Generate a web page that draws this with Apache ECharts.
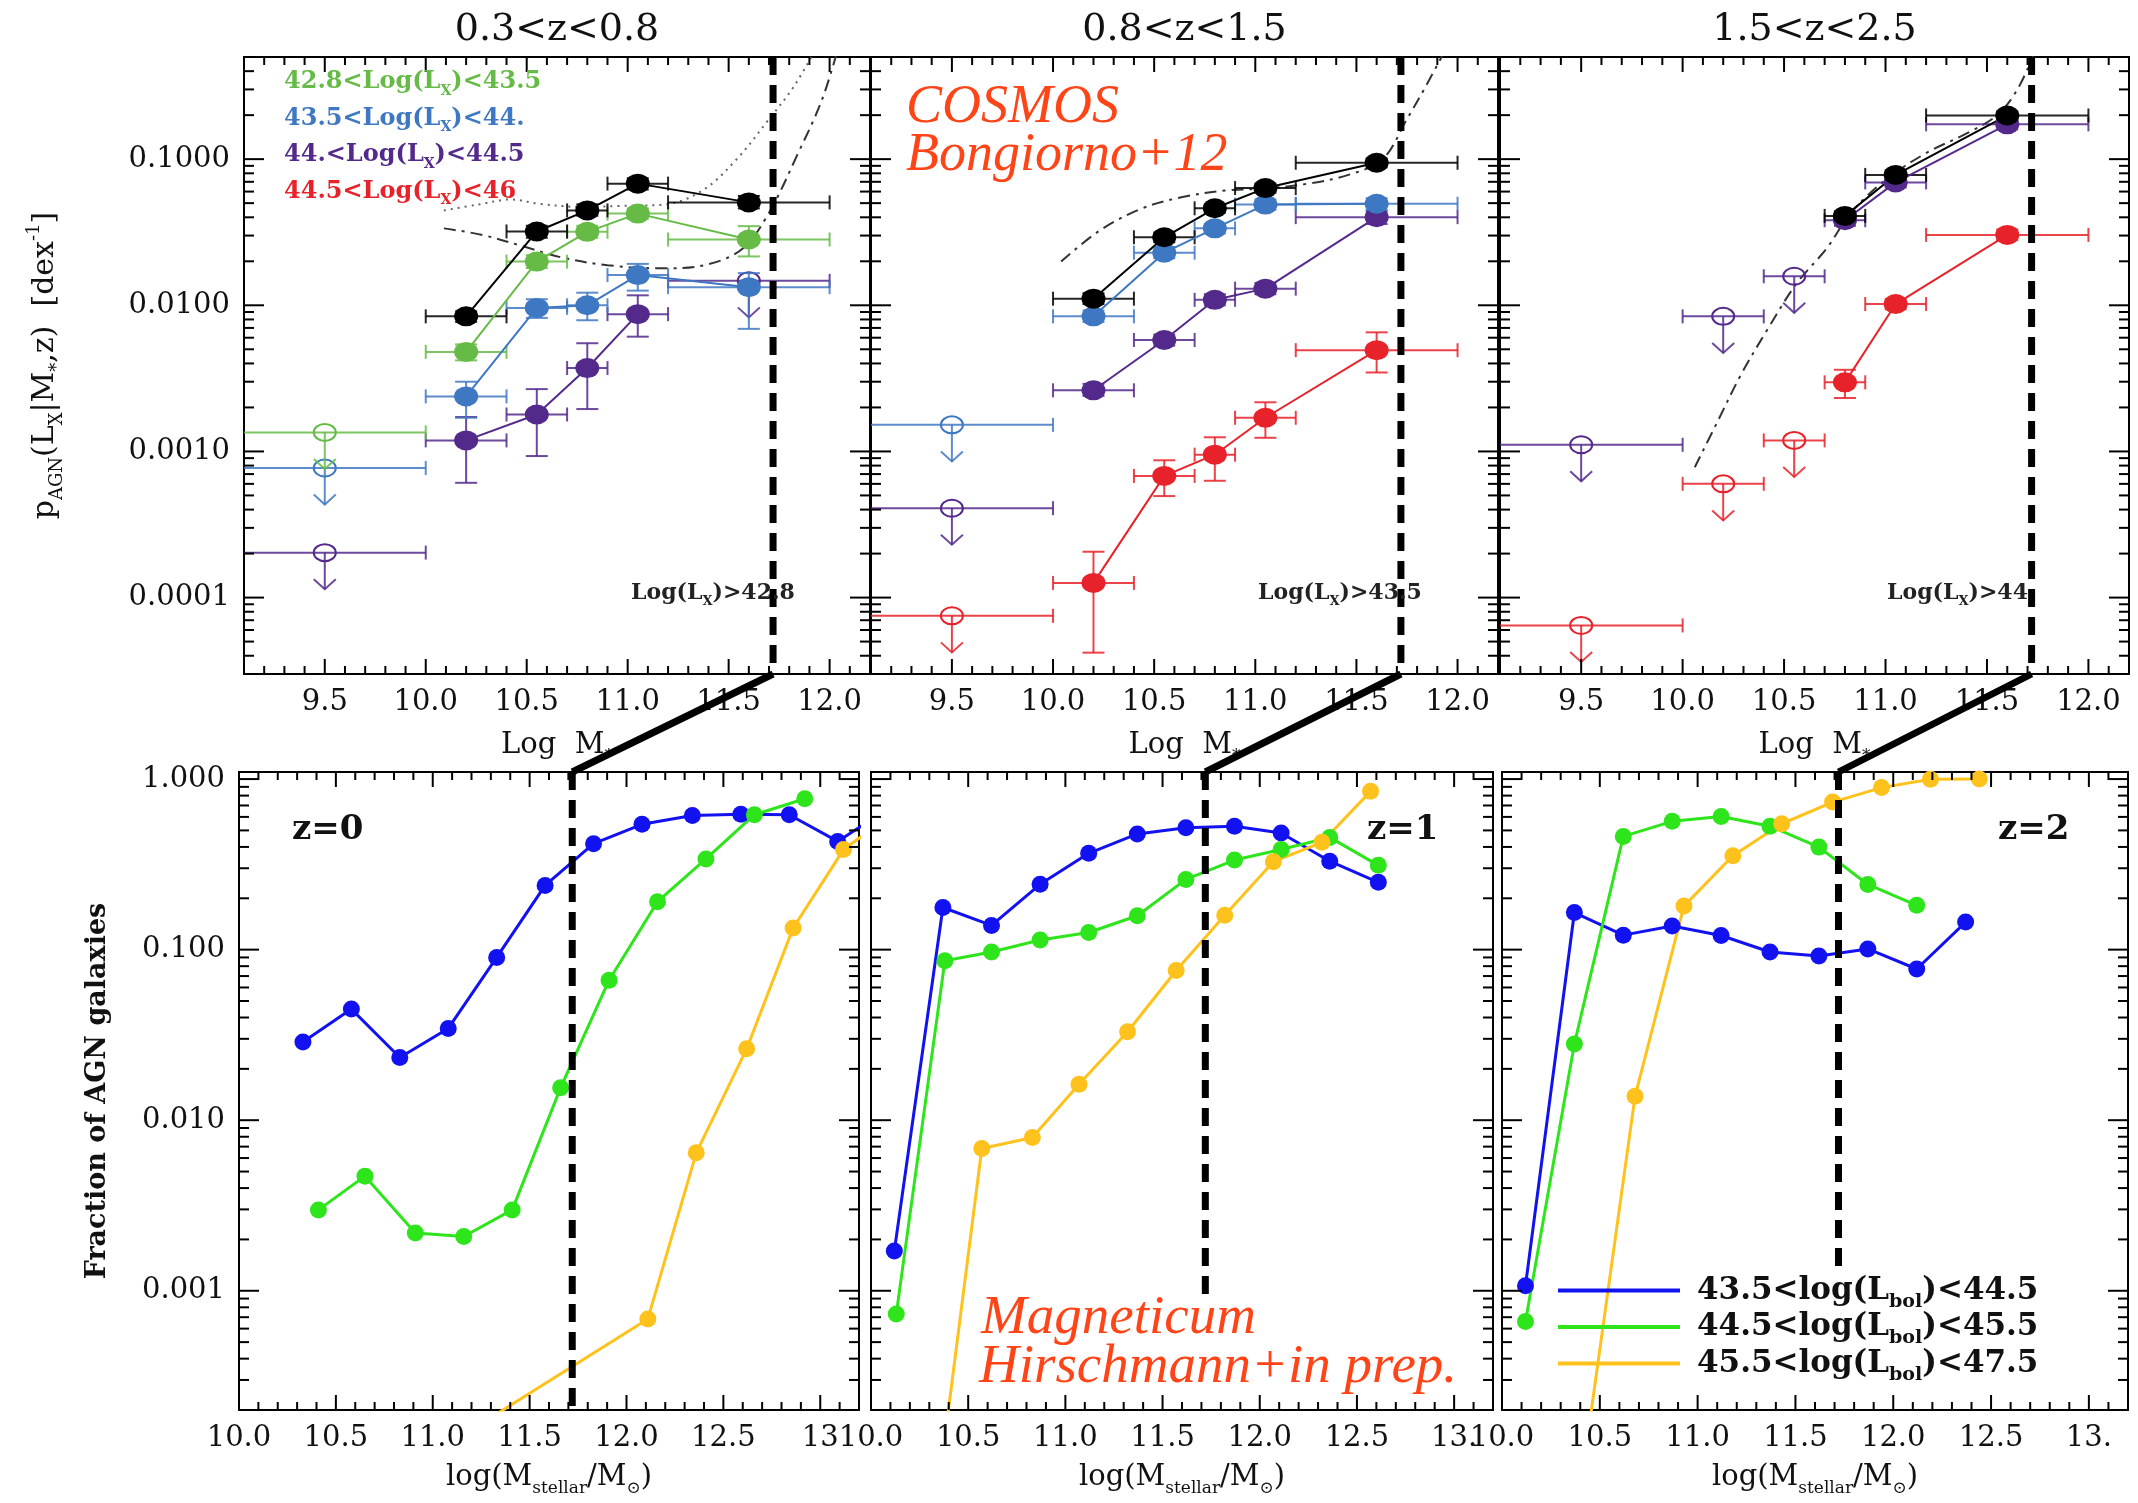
<!DOCTYPE html>
<html>
<head>
<meta charset="utf-8">
<script src="https://cdn.jsdelivr.net/npm/echarts@6/dist/echarts.min.js"></script>
<style>
  html, body { margin: 0; padding: 0; background: #ffffff; }
  #chart { width: 2138px; height: 1503px; }
</style>
</head>
<body>
<div id="chart"></div>
<script>
// ---------------------------------------------------------------------------
// COSMOS (Bongiorno+12): p_AGN(L_X | M*, z) per X-ray luminosity bin
// rows: [logM, p, logM_low, logM_high, p_low, p_high]
// upper limits: [logM, p, logM_low, logM_high]
// ---------------------------------------------------------------------------
const totalZ1 = [
  [10.2, 0.0084, 10.0, 10.4, 0.0077, 0.0091],
  [10.55, 0.032, 10.4, 10.7, 0.029, 0.035],
  [10.8, 0.0446, 10.7, 10.9, 0.041, 0.049],
  [11.05, 0.068, 10.9, 11.2, 0.062, 0.074],
  [11.6, 0.0506, 11.2, 12.0, 0.046, 0.056]
];
const greenZ1 = [
  [10.2, 0.0048, 10.0, 10.4, 0.0042, 0.0054],
  [10.55, 0.0199, 10.4, 10.7, 0.018, 0.022],
  [10.8, 0.0318, 10.7, 10.9, 0.029, 0.035],
  [11.05, 0.0424, 10.9, 11.2, 0.039, 0.046],
  [11.6, 0.0282, 11.2, 12.0, 0.0216, 0.0348]
];
const greenZ1Lim = [[9.5, 0.00135, 9.0, 10.0]];
const blueZ1 = [
  [10.2, 0.00238, 10.0, 10.4, 0.0017, 0.0030],
  [10.55, 0.0096, 10.4, 10.7, 0.0082, 0.011],
  [10.8, 0.0100, 10.7, 10.9, 0.0079, 0.0122],
  [11.05, 0.0161, 10.9, 11.2, 0.0126, 0.0192],
  [11.6, 0.0133, 11.2, 12.0, 0.0069, 0.0166]
];
const blueZ1Lim = [[9.5, 0.00077, 9.0, 10.0]];
const purpleZ1 = [
  [10.2, 0.00119, 10.0, 10.4, 0.00061, 0.00172],
  [10.55, 0.00179, 10.4, 10.7, 0.00093, 0.00267],
  [10.8, 0.00372, 10.7, 10.9, 0.00195, 0.0055],
  [11.05, 0.0087, 10.9, 11.2, 0.0061, 0.0117]
];
const purpleZ1Lim = [[9.5, 0.000203, 9.0, 10.0], [11.6, 0.0147, 11.2, 12.0]];

const totalZ2 = [
  [10.2, 0.0111, 10.0, 10.4, 0.0102, 0.0121],
  [10.55, 0.0292, 10.4, 10.7, 0.027, 0.0315],
  [10.8, 0.0461, 10.7, 10.9, 0.043, 0.049],
  [11.05, 0.0634, 10.9, 11.2, 0.059, 0.068],
  [11.6, 0.0945, 11.2, 12.0, 0.088, 0.101]
];
const blueZ2 = [
  [10.2, 0.0084, 10.0, 10.4, 0.0077, 0.0092],
  [10.55, 0.0229, 10.4, 10.7, 0.021, 0.025],
  [10.8, 0.0336, 10.7, 10.9, 0.031, 0.036],
  [11.05, 0.0489, 10.9, 11.2, 0.045, 0.053],
  [11.6, 0.0495, 11.2, 12.0, 0.045, 0.054]
];
const blueZ2Lim = [[9.5, 0.00152, 9.0, 10.0]];
const purpleZ2 = [
  [10.2, 0.00262, 10.0, 10.4, 0.0024, 0.0029],
  [10.55, 0.00579, 10.4, 10.7, 0.0053, 0.0063],
  [10.8, 0.0109, 10.7, 10.9, 0.0100, 0.0119],
  [11.05, 0.0130, 10.9, 11.2, 0.0119, 0.0142],
  [11.6, 0.0401, 11.2, 12.0, 0.036, 0.044]
];
const purpleZ2Lim = [[9.5, 0.000409, 9.0, 10.0]];
const redZ2 = [
  [10.2, 0.000126, 10.0, 10.4, 0.000042, 0.000206],
  [10.55, 0.00068, 10.4, 10.7, 0.000495, 0.00087],
  [10.8, 0.00095, 10.7, 10.9, 0.00063, 0.00125],
  [11.05, 0.0017, 10.9, 11.2, 0.00124, 0.00217],
  [11.6, 0.00493, 11.2, 12.0, 0.00347, 0.00653]
];
const redZ2Lim = [[9.5, 0.000075, 9.0, 10.0]];

const totalZ3 = [
  [10.8, 0.0409, 10.7, 10.9, 0.038, 0.044],
  [11.05, 0.078, 10.9, 11.2, 0.072, 0.084],
  [11.6, 0.199, 11.2, 12.0, 0.185, 0.213]
];
const purpleZ3 = [
  [10.8, 0.0382, 10.7, 10.9, 0.035, 0.041],
  [11.05, 0.0693, 10.9, 11.2, 0.064, 0.075],
  [11.6, 0.173, 11.2, 12.0, 0.16, 0.186]
];
const purpleZ3Lim = [[9.5, 0.00111, 9.0, 10.0], [10.2, 0.0084, 10.0, 10.4], [10.55, 0.0158, 10.4, 10.7]];
const redZ3 = [
  [10.8, 0.00297, 10.7, 10.9, 0.00232, 0.00362],
  [11.05, 0.0102, 10.9, 11.2, 0.0094, 0.011],
  [11.6, 0.0303, 11.2, 12.0, 0.028, 0.033]
];
const redZ3Lim = [[9.5, 0.0000645, 9.0, 10.0], [10.2, 0.0006, 10.0, 10.4], [10.55, 0.00119, 10.4, 10.7]];

// model curves: [logM, p]
const dottedZ1 = [[10.09, 0.0446], [10.26, 0.0489], [10.42, 0.053], [10.56, 0.0495], [10.79, 0.047],
  [10.95, 0.0478], [11.18, 0.0489], [11.37, 0.061], [11.54, 0.1], [11.70, 0.188], [11.82, 0.31], [11.93, 0.56]];
const dashDotZ1 = [[10.09, 0.0336], [10.28, 0.0303], [10.48, 0.0254], [10.67, 0.0213], [10.90, 0.0188],
  [11.18, 0.0179], [11.40, 0.0191], [11.57, 0.0245], [11.70, 0.043], [11.84, 0.107], [11.96, 0.25], [12.04, 0.56]];
const dashDotZ2 = [[10.04, 0.0199], [10.23, 0.0324], [10.44, 0.046], [10.64, 0.055], [10.85, 0.061],
  [11.05, 0.063], [11.26, 0.068], [11.46, 0.078], [11.63, 0.1], [11.75, 0.188], [11.84, 0.31], [11.94, 0.56]];
const dashDotZ3 = [[10.06, 0.00078], [10.17, 0.00158], [10.29, 0.0034], [10.42, 0.0069], [10.56, 0.014],
  [10.71, 0.0245], [10.83, 0.043], [11.0, 0.072], [11.2, 0.11], [11.4, 0.15], [11.55, 0.2], [11.65, 0.3], [11.73, 0.52]];

// ---------------------------------------------------------------------------
// Magneticum (Hirschmann+ in prep.): fraction of AGN galaxies per L_bol bin
// ---------------------------------------------------------------------------
const mBlueZ0X = [10.33, 10.58, 10.83, 11.08, 11.33, 11.58, 11.83, 12.08, 12.34, 12.59, 12.84, 13.09, 13.34];
const mBlueZ0Y = [0.0287, 0.0448, 0.0233, 0.0345, 0.090, 0.238, 0.418, 0.543, 0.611, 0.622, 0.618, 0.431, 0.66];
const mGreenZ0X = [10.41, 10.65, 10.91, 11.16, 11.41, 11.66, 11.91, 12.16, 12.41, 12.66, 12.92];
const mGreenZ0Y = [0.00298, 0.0047, 0.00218, 0.00208, 0.00298, 0.0155, 0.0662, 0.191, 0.34, 0.618, 0.767];
const mYellowZ0X = [11.11, 12.11, 12.36, 12.62, 12.86, 13.12, 13.37];
const mYellowZ0Y = [0.000132, 0.000684, 0.00644, 0.0262, 0.134, 0.386, 0.62];

const mBlueZ1X = [10.12, 10.37, 10.62, 10.87, 11.12, 11.37, 11.62, 11.87, 12.11, 12.36, 12.61];
const mBlueZ1Y = [0.00171, 0.1766, 0.1387, 0.2415, 0.367, 0.477, 0.519, 0.529, 0.483, 0.33, 0.248];
const mGreenZ1X = [10.13, 10.38, 10.62, 10.87, 11.12, 11.37, 11.62, 11.87, 12.11, 12.36, 12.61];
const mGreenZ1Y = [0.00073, 0.086, 0.0968, 0.114, 0.126, 0.158, 0.258, 0.335, 0.386, 0.455, 0.312];
const mYellowZ1X = [10.32, 10.57, 10.83, 11.07, 11.32, 11.57, 11.82, 12.07, 12.32, 12.57];
const mYellowZ1Y = [0.00004, 0.00682, 0.00792, 0.01626, 0.033, 0.0755, 0.159, 0.328, 0.426, 0.847];

const mBlueZ2X = [10.12, 10.37, 10.62, 10.87, 11.12, 11.37, 11.62, 11.87, 12.12, 12.37];
const mBlueZ2Y = [0.00107, 0.165, 0.1216, 0.1377, 0.121, 0.0968, 0.0918, 0.101, 0.077, 0.145];
const mGreenZ2X = [10.12, 10.37, 10.62, 10.87, 11.12, 11.37, 11.62, 11.87, 12.12];
const mGreenZ2Y = [0.00066, 0.028, 0.461, 0.565, 0.603, 0.529, 0.399, 0.241, 0.182];
const mYellowZ2X = [10.43, 10.68, 10.93, 11.18, 11.43, 11.69, 11.94, 12.19, 12.44];
const mYellowZ2Y = [0.00012, 0.0138, 0.18, 0.355, 0.547, 0.733, 0.891, 0.997, 1.0];

// mass-completeness limit and where its marker stops in each lower panel
const massLimit = 11.72;
const limitLineEnds = [0.0002, 0.00092, 0.00136];

// ---------------------------------------------------------------------------
// labels
// ---------------------------------------------------------------------------
const zTitles = ['0.3<z<0.8', '0.8<z<1.5', '1.5<z<2.5'];
const zSimLabels = ['z=0', 'z=1', 'z=2'];
const lxBins = [['42.8', '43.5'], ['43.5', '44.'], ['44.', '44.5'], ['44.5', '46']];
const lxThresholds = ['42.8', '43.5', '44'];
const lbolBins = [['43.5', '44.5'], ['44.5', '45.5'], ['45.5', '47.5']];
const topXTickValues = [9.5, 10.0, 10.5, 11.0, 11.5, 12.0];
const topXTickLabels = ['9.5', '10.0', '10.5', '11.0', '11.5', '12.0'];
const botXTickValues = [10.0, 10.5, 11.0, 11.5, 12.0, 12.5, 13.0];
const botXTickLabels = [
  ['10.0', '10.5', '11.0', '11.5', '12.0', '12.5', '13'],
  ['10.0', '10.5', '11.0', '11.5', '12.0', '12.5', '13.'],
  ['10.0', '10.5', '11.0', '11.5', '12.0', '12.5', '13.']
];
const topYTickExp = [-4, -3, -2, -1];
const topYTickLabels = ['0.0001', '0.0010', '0.0100', '0.1000'];
const botYTickExp = [-3, -2, -1, 0];
const botYTickLabels = ['0.001', '0.010', '0.100', '1.000'];

// ---------------------------------------------------------------------------
// styling / layout
// ---------------------------------------------------------------------------
const FONT = 'DejaVu Serif';
const COL = {
  black: '#000000', green: '#66bb47', blue: '#3f78c2', purple: '#54298c', red: '#e8222a',
  mBlue: '#1212f0', mGreen: '#2ee51c', mYellow: '#ffc21c', note: '#ff4418'
};
const TOP = { top: 57, height: 617, xmin: 9.1, xmax: 12.2, ymin: 3.0e-5, ymax: 0.5 };
const BOT = { top: 772, height: 638, xmin: 10.0, xmax: 13.2, ymin: 2.0e-4, ymax: 1.1 };
const topCols = [{ left: 244, width: 626 }, { left: 871, width: 627 }, { left: 1500, width: 629 }];
const botCols = [{ left: 239, width: 620 }, { left: 871, width: 622 }, { left: 1502, width: 626 }];

// rich-text set: t = normal run, s = subscript, p = superscript
function richSet(fs, color, weight, italic) {
  const base = { fontFamily: FONT, color: color, fill: color, fontWeight: weight || 'normal',
    fontStyle: italic ? 'italic' : 'normal' };
  return {
    t: Object.assign({ fontSize: fs, lineHeight: Math.round(fs * 1.35), verticalAlign: 'middle' }, base),
    s: Object.assign({ fontSize: Math.round(fs * 0.6), verticalAlign: 'bottom' }, base),
    p: Object.assign({ fontSize: Math.round(fs * 0.6), verticalAlign: 'top' }, base)
  };
}

// ---------------------------------------------------------------------------
// custom renderers
// ---------------------------------------------------------------------------
function tickData(ax) {
  const d = [];
  const i0 = Math.round(ax.xmin * 10), i1 = Math.round(ax.xmax * 10);
  for (let i = i0 + 1; i < i1; i++) d.push([i / 10, ax.ymin, 0, i % 5 === 0 ? 1 : 0]);
  for (let e = -6; e <= 1; e++) {
    for (let m = 1; m <= 9; m++) {
      const v = m * Math.pow(10, e);
      if (v > ax.ymin * 1.0001 && v < ax.ymax * 0.9999) d.push([ax.xmin, v, 1, m === 1 ? 1 : 0]);
    }
  }
  return d;
}
function tickRender(params, api) {
  const cs = params.coordSys;
  const p = api.coord([api.value(0), api.value(1)]);
  const major = api.value(3) === 1;
  const st = { stroke: '#000', lineWidth: 2 };
  if (api.value(2) === 0) {
    const len = major ? 15 : 8;
    const b = cs.y + cs.height, t = cs.y;
    return { type: 'group', children: [
      { type: 'line', shape: { x1: p[0], y1: b, x2: p[0], y2: b - len }, style: st },
      { type: 'line', shape: { x1: p[0], y1: t, x2: p[0], y2: t + len }, style: st }
    ] };
  }
  const len = major ? 20 : 10;
  const l = cs.x, r = cs.x + cs.width;
  return { type: 'group', children: [
    { type: 'line', shape: { x1: l, y1: p[1], x2: l + len, y2: p[1] }, style: st },
    { type: 'line', shape: { x1: r, y1: p[1], x2: r - len, y2: p[1] }, style: st }
  ] };
}
function xBar(api, cs, y, xlo, xhi, st, children) {
  const lo = api.coord([xlo, y]), hi = api.coord([xhi, y]);
  const L = Math.max(lo[0], cs.x), R = Math.min(hi[0], cs.x + cs.width);
  const py = lo[1], cap = 7;
  children.push({ type: 'line', shape: { x1: L, y1: py, x2: R, y2: py }, style: st });
  if (lo[0] >= cs.x) children.push({ type: 'line', shape: { x1: lo[0], y1: py - cap, x2: lo[0], y2: py + cap }, style: st });
  if (hi[0] <= cs.x + cs.width) children.push({ type: 'line', shape: { x1: hi[0], y1: py - cap, x2: hi[0], y2: py + cap }, style: st });
}
function errRender(color) {
  return function (params, api) {
    const cs = params.coordSys;
    const x = api.value(0), y = api.value(1);
    const st = { stroke: color, lineWidth: 2, fill: null, opacity: 0.85 };
    const ch = [];
    xBar(api, cs, y, api.value(2), api.value(3), st, ch);
    const a = api.coord([x, api.value(4)]), b = api.coord([x, api.value(5)]);
    const cap = 11;
    ch.push({ type: 'line', shape: { x1: a[0], y1: a[1], x2: b[0], y2: b[1] }, style: st });
    ch.push({ type: 'line', shape: { x1: a[0] - cap, y1: a[1], x2: a[0] + cap, y2: a[1] }, style: st });
    ch.push({ type: 'line', shape: { x1: b[0] - cap, y1: b[1], x2: b[0] + cap, y2: b[1] }, style: st });
    return { type: 'group', children: ch };
  };
}
function limRender(color) {
  return function (params, api) {
    const cs = params.coordSys;
    const x = api.value(0), y = api.value(1);
    const st = { stroke: color, lineWidth: 2, fill: null, opacity: 0.85 };
    const ch = [];
    xBar(api, cs, y, api.value(2), api.value(3), st, ch);
    const c = api.coord([x, y]);
    const tip = api.coord([x, y * Math.pow(10, -0.25)]);
    ch.push({ type: 'ellipse', shape: { cx: c[0], cy: c[1], rx: 11, ry: 8.5 }, style: { stroke: color, lineWidth: 2, fill: null } });
    ch.push({ type: 'line', shape: { x1: c[0], y1: c[1], x2: tip[0], y2: tip[1] }, style: st });
    ch.push({ type: 'polyline', shape: { points: [[tip[0] - 11, tip[1] - 10], [tip[0], tip[1]], [tip[0] + 11, tip[1] - 10]] }, style: st });
    return { type: 'group', children: ch };
  };
}

// ---------------------------------------------------------------------------
// grids & axes
// ---------------------------------------------------------------------------
const grids = [], xAxes = [], yAxes = [], series = [];

function pickLabel(values, labels) {
  return function (v) {
    const k = values.findIndex(t => Math.abs(t - v) < 1e-6);
    return k < 0 ? '' : labels[k];
  };
}
function pickLogLabel(exps, labels) {
  return function (v) {
    const e = Math.log10(v);
    if (Math.abs(e - Math.round(e)) > 1e-6) return '';
    const k = exps.indexOf(Math.round(e));
    return k < 0 ? '' : labels[k];
  };
}

topCols.forEach((c, i) => {
  grids.push({ left: c.left, top: TOP.top, width: c.width, height: TOP.height, show: true,
    borderColor: '#000', borderWidth: 2, backgroundColor: 'transparent', containLabel: false });
  xAxes.push({
    type: 'value', gridIndex: i, min: TOP.xmin, max: TOP.xmax, interval: 0.1,
    axisLine: { show: false }, axisTick: { show: false }, splitLine: { show: false },
    axisLabel: { margin: 14, fontFamily: FONT, fontSize: 29, color: '#111',
      formatter: pickLabel(topXTickValues, topXTickLabels) },
    name: '{t|Log  M}{s|*}', nameLocation: 'middle', nameGap: 52,
    nameTextStyle: { rich: richSet(29, '#111') }
  });
  yAxes.push({
    type: 'log', logBase: 10, gridIndex: i, min: TOP.ymin, max: TOP.ymax,
    axisLine: { show: false }, axisTick: { show: false }, splitLine: { show: false },
    axisLabel: { show: i === 0, margin: 14, fontFamily: FONT, fontSize: 29, color: '#111',
      formatter: pickLogLabel(topYTickExp, topYTickLabels) },
    name: i === 0 ? '{t|p}{s|AGN}{t|(L}{s|X}{t||M}{s|*}{t|,z)  [dex}{p|-1}{t|]}' : '',
    nameLocation: 'middle', nameRotate: 90, nameGap: 178,
    nameTextStyle: { rich: richSet(30, '#111') }
  });
});
botCols.forEach((c, j) => {
  const i = j + 3;
  grids.push({ left: c.left, top: BOT.top, width: c.width, height: BOT.height, show: true,
    borderColor: '#000', borderWidth: 2, backgroundColor: 'transparent', containLabel: false });
  xAxes.push({
    type: 'value', gridIndex: i, min: BOT.xmin, max: BOT.xmax, interval: 0.1,
    axisLine: { show: false }, axisTick: { show: false }, splitLine: { show: false },
    axisLabel: { margin: 14, fontFamily: FONT, fontSize: 29, color: '#111',
      formatter: pickLabel(botXTickValues, botXTickLabels[j]) },
    name: '{t|log(M}{s|stellar}{t|/M}{s|⊙}{t|)}', nameLocation: 'middle', nameGap: 48,
    nameTextStyle: { rich: richSet(29, '#111') }
  });
  yAxes.push({
    type: 'log', logBase: 10, gridIndex: i, min: BOT.ymin, max: BOT.ymax,
    axisLine: { show: false }, axisTick: { show: false }, splitLine: { show: false },
    axisLabel: { show: j === 0, margin: 14, fontFamily: FONT, fontSize: 29, color: '#111',
      formatter: pickLogLabel(botYTickExp, botYTickLabels) },
    name: j === 0 ? 'Fraction of AGN galaxies' : '',
    nameLocation: 'middle', nameRotate: 90, nameGap: 128,
    nameTextStyle: { fontFamily: FONT, fontSize: 27, fontWeight: 'bold', color: '#111' }
  });
});

// ticks on all four sides of every panel
for (let i = 0; i < 6; i++) {
  series.push({ type: 'custom', xAxisIndex: i, yAxisIndex: i, silent: true, z: 10,
    data: tickData(i < 3 ? TOP : BOT), renderItem: tickRender });
}

// ---------------------------------------------------------------------------
// upper row: COSMOS
// ---------------------------------------------------------------------------
function addCosmos(gi, color, pts, lims) {
  if (pts && pts.length) {
    series.push({ type: 'custom', xAxisIndex: gi, yAxisIndex: gi, silent: true, z: 2,
      data: pts, renderItem: errRender(color) });
    series.push({ type: 'line', xAxisIndex: gi, yAxisIndex: gi, silent: true, z: 3,
      data: pts.map(p => [p[0], p[1]]), symbol: 'circle', symbolSize: [24, 20],
      itemStyle: { color: color }, lineStyle: { color: color, width: 2 } });
  }
  if (lims && lims.length) {
    series.push({ type: 'custom', xAxisIndex: gi, yAxisIndex: gi, silent: true, z: 2,
      data: lims, renderItem: limRender(color) });
  }
}
function addCurve(gi, pts, dash, color) {
  series.push({ type: 'line', xAxisIndex: gi, yAxisIndex: gi, silent: true, z: 1, smooth: 0.35,
    data: pts, showSymbol: false, lineStyle: { color: color, width: 2, type: dash } });
}
const DOT = [2, 5];
const DASHDOT = [12, 6, 3, 6];

addCurve(0, dottedZ1, DOT, '#666');
addCurve(0, dashDotZ1, DASHDOT, '#333');
addCosmos(0, COL.purple, purpleZ1, purpleZ1Lim);
addCosmos(0, COL.blue, blueZ1, blueZ1Lim);
addCosmos(0, COL.green, greenZ1, greenZ1Lim);
addCosmos(0, COL.black, totalZ1, null);

addCurve(1, dashDotZ2, DASHDOT, '#333');
addCosmos(1, COL.red, redZ2, redZ2Lim);
addCosmos(1, COL.purple, purpleZ2, purpleZ2Lim);
addCosmos(1, COL.blue, blueZ2, blueZ2Lim);
addCosmos(1, COL.black, totalZ2, null);

addCurve(2, dashDotZ3, DASHDOT, '#333');
addCosmos(2, COL.red, redZ3, redZ3Lim);
addCosmos(2, COL.purple, purpleZ3, purpleZ3Lim);
addCosmos(2, COL.black, totalZ3, null);

// ---------------------------------------------------------------------------
// lower row: Magneticum
// ---------------------------------------------------------------------------
const lbolNames = lbolBins.map(b => b[0] + '<log(Lbol)<' + b[1]);
function addSim(gi, k, color, xs, ys) {
  series.push({ type: 'line', name: lbolNames[k], xAxisIndex: gi, yAxisIndex: gi, silent: true, z: 3,
    data: xs.map((x, i) => [x, ys[i]]), symbol: 'circle', symbolSize: 17,
    itemStyle: { color: color }, lineStyle: { color: color, width: 3 } });
}
addSim(3, 0, COL.mBlue, mBlueZ0X, mBlueZ0Y);
addSim(3, 1, COL.mGreen, mGreenZ0X, mGreenZ0Y);
addSim(3, 2, COL.mYellow, mYellowZ0X, mYellowZ0Y);
addSim(4, 0, COL.mBlue, mBlueZ1X, mBlueZ1Y);
addSim(4, 1, COL.mGreen, mGreenZ1X, mGreenZ1Y);
addSim(4, 2, COL.mYellow, mYellowZ1X, mYellowZ1Y);
addSim(5, 0, COL.mBlue, mBlueZ2X, mBlueZ2Y);
addSim(5, 1, COL.mGreen, mGreenZ2X, mGreenZ2Y);
addSim(5, 2, COL.mYellow, mYellowZ2X, mYellowZ2Y);

// mass-limit markers
for (let i = 0; i < 6; i++) {
  const top = i < 3 ? TOP.ymax : BOT.ymax;
  const bottom = i < 3 ? TOP.ymin : limitLineEnds[i - 3];
  series.push({ type: 'line', xAxisIndex: i, yAxisIndex: i, silent: true, z: 6, showSymbol: false,
    data: [[massLimit, top], [massLimit, bottom]],
    lineStyle: { color: '#000', width: 7, type: [18, 10] } });
}

// ---------------------------------------------------------------------------
// text annotations
// ---------------------------------------------------------------------------
const graphics = [];
function txt(id, x, y, text, rich, align) {
  graphics.push({ type: 'text', id: id, x: x, y: y, silent: true, z: 20,
    style: { text: text, rich: rich, align: align || 'left', verticalAlign: 'middle' } });
}
zTitles.forEach((t, i) => {
  const c = topCols[i];
  txt('title' + i, c.left + c.width / 2, 30, '{t|' + t + '}', richSet(38, '#111'), 'center');
  txt('thr' + i, c.left + 387, 593, '{t|Log(L}{s|X}{t|)>' + lxThresholds[i] + '}', richSet(22, '#222', 'bold'));
});
const lxColors = [COL.green, COL.blue, COL.purple, COL.red];
lxBins.forEach((b, k) => {
  txt('lx' + k, 284, 82 + 36.5 * k, '{t|' + b[0] + '<Log(L}{s|X}{t|)<' + b[1] + '}', richSet(24, lxColors[k], 'bold'));
});
function noteRich(fs) {
  return { t: { fontFamily: 'Liberation Serif', fontStyle: 'italic', fontSize: fs,
    color: COL.note, fill: COL.note, lineHeight: 50 } };
}
txt('cosmos', 906, 108, '{t|COSMOS}', noteRich(54));
txt('bong', 906, 156, '{t|Bongiorno+12}', noteRich(54));
txt('magn', 981, 1319, '{t|Magneticum}', noteRich(55));
txt('hirsch', 979, 1368, '{t|Hirschmann+in prep.}', noteRich(55));
const zPos = [53, 496, 496];
zSimLabels.forEach((t, j) => {
  txt('zsim' + j, botCols[j].left + zPos[j], 830, '{t|' + t + '}', richSet(34, '#111', 'bold'));
});

// ---------------------------------------------------------------------------
const chart = echarts.init(document.getElementById('chart'), null, { renderer: 'canvas' });
const lbolRich = richSet(31, '#111', 'bold');
chart.setOption({
  animation: false,
  backgroundColor: '#ffffff',
  grid: grids,
  xAxis: xAxes,
  yAxis: yAxes,
  series: series,
  legend: {
    data: lbolNames, left: 1553, top: 1270, orient: 'vertical', icon: 'rect',
    itemWidth: 122, itemHeight: 4, itemGap: 0, selectedMode: false,
    textStyle: { rich: lbolRich, padding: [0, 0, 0, 12] },
    formatter: function (name) {
      const k = lbolNames.indexOf(name);
      return '{t|' + lbolBins[k][0] + '<log(L}{s|bol}{t|)<' + lbolBins[k][1] + '}';
    }
  },
  graphic: { elements: graphics }
});

// slanted connectors from each upper panel's mass limit to the matching lower panel
const connectors = [];
for (let i = 0; i < 3; i++) {
  const a = chart.convertToPixel({ xAxisIndex: i, yAxisIndex: i }, [massLimit, TOP.ymin]);
  const b = chart.convertToPixel({ xAxisIndex: i + 3, yAxisIndex: i + 3 }, [massLimit, BOT.ymax]);
  connectors.push({ type: 'line', id: 'conn' + i, silent: true, z: 30,
    shape: { x1: a[0], y1: a[1], x2: b[0], y2: b[1] }, style: { stroke: '#000', lineWidth: 7 } });
}
chart.setOption({ graphic: { elements: connectors } });
</script>
</body>
</html>
